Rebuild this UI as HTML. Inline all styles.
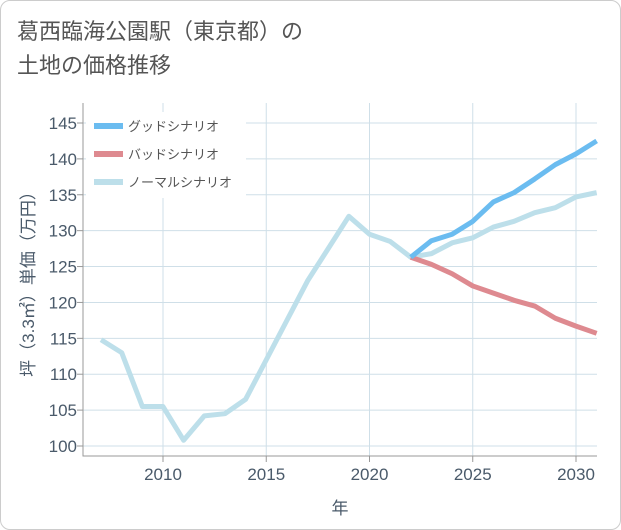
<!DOCTYPE html>
<html><head><meta charset="utf-8"><style>
body{margin:0;background:#fff;}
.wrap{width:619px;height:528px;border:1px solid #ccc;border-radius:10px;position:relative;background:#fff;overflow:hidden;}
.title{position:absolute;left:16px;top:14px;font:22px/34px "Liberation Sans","Noto Sans CJK JP",sans-serif;color:#555;}
svg text{font-family:"Liberation Sans","Noto Sans CJK JP",sans-serif;}
</style></head><body>
<div class="wrap">
<div class="title">葛西臨海公園駅（東京都）の<br>土地の価格推移</div>
<svg id="c" width="621" height="530" style="position:absolute;left:-1px;top:-1px"></svg>
</div>
<script>
const years=[2007,2008,2009,2010,2011,2012,2013,2014,2015,2016,2017,2018,2019,2020,2021,2022,2023,2024,2025,2026,2027,2028,2029,2030,2031];
const normal=[114.8,113,105.5,105.5,100.8,104.2,104.5,106.5,112,117.5,123,127.5,132,129.5,128.5,126.3,126.8,128.3,129,130.5,131.3,132.5,133.2,134.7,135.3];
const goodYears=[2022,2023,2024,2025,2026,2027,2028,2029,2030,2031];
const good=[126.3,128.6,129.5,131.3,134,135.3,137.2,139.2,140.7,142.5];
const bad=[126.3,125.3,124,122.3,121.3,120.3,119.5,117.8,116.7,115.7];
const yTicks=[100,105,110,115,120,125,130,135,140,145];
const xTicks=[2010,2015,2020,2025,2030];
const L=83,R=597,T=103,B=456;
const x=v=>163+(v-2010)*20.65;
const y=v=>446-(v-100)*7.178;
const s=document.getElementById('c');const NS='http://www.w3.org/2000/svg';
function el(t,a,p){const e=document.createElementNS(NS,t);for(const k in a)e.setAttribute(k,a[k]);(p||s).appendChild(e);return e;}
for(const t of yTicks){const g=el('line',{x1:L,x2:R,y1:y(t),y2:y(t),stroke:'#cfdfe8','stroke-width':1});

el('line',{x1:L-6,x2:L,y1:y(t),y2:y(t),stroke:'#999'});
const tx=el('text',{x:L-6,y:y(t)+6,'text-anchor':'end','font-size':17,fill:'#4a5a6a'});tx.textContent=t;
}
for(const t of xTicks){const g=el('line',{x1:x(t),x2:x(t),y1:T,y2:B,stroke:'#cfdfe8'});

el('line',{x1:x(t),x2:x(t),y1:B,y2:B+6,stroke:'#999'});
const tx=el('text',{x:x(t),y:B+24,'text-anchor':'middle','font-size':17,fill:'#4a5a6a'});tx.textContent=t;
}
el('path',{d:`M${L} ${T}V${B}H${R}`,fill:'none',stroke:'#999'});
function line(xs,vs,c,n){const p=el('polyline',{points:xs.map((v,i)=>x(v)+','+y(vs[i])).join(' '),fill:'none',stroke:c,'stroke-width':5,'stroke-linejoin':'round'});
}
line(years,normal,'#bddfea','normal-scenario-line');
line(goodYears,bad,'#de8a90','bad-scenario-line');
line(goodYears,good,'#6bbcf0','good-scenario-line');
const lg=el('rect',{x:86,y:112,width:160,height:86,fill:'#fff'});

[['グッドシナリオ','#6bbcf0',126],['バッドシナリオ','#de8a90',154],['ノーマルシナリオ','#bddfea',182]].forEach(([t,c,yy])=>{
const l=el('line',{x1:94,x2:123,y1:yy,y2:yy,stroke:c,'stroke-width':6});

const tx=el('text',{x:128,y:yy+5,'font-size':13,fill:'#555'});tx.textContent=t;
});
const xt=el('text',{x:340,y:514,'text-anchor':'middle','font-size':17,fill:'#4a5a6a'});xt.textContent='年';

const yt=el('text',{x:0,y:0,'text-anchor':'middle','font-size':17,fill:'#4a5a6a',transform:'translate(34,280) rotate(-90)'});yt.textContent='坪（3.3㎡）単価（万円）';

</script>
</body></html>
